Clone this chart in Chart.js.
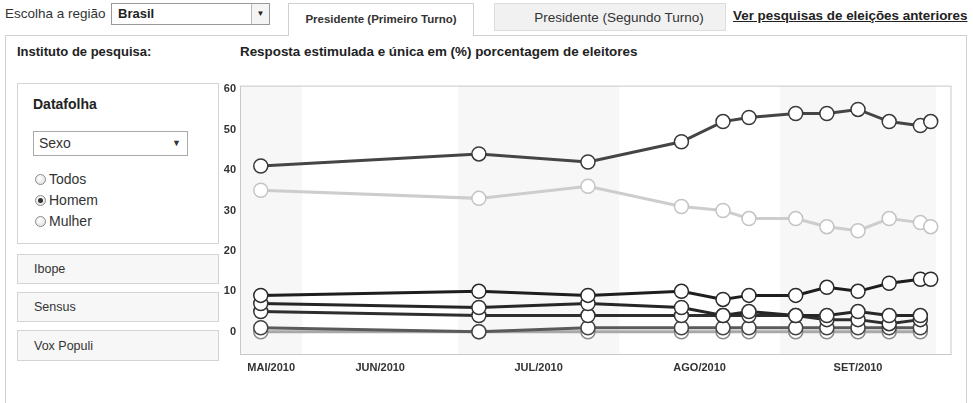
<!DOCTYPE html>
<html>
<head>
<meta charset="utf-8">
<script src="https://cdn.jsdelivr.net/npm/chart.js@4"></script>
<style>
  body { margin:0; background:#fff; font-family: Arial, "Liberation Sans", sans-serif; color:#333; }
  #page { position:relative; width:973px; height:403px; overflow:hidden; }
  .abs { position:absolute; white-space:nowrap; }
  .sel { position:absolute; border:1px solid #999; background:#fff; box-sizing:border-box; }
  .btn { position:absolute; right:0; top:0; bottom:0; width:17px; border-left:1px solid #bbb; background:#f4f4f4;
         font-size:8px; text-align:center; line-height:20px; color:#222; }
  .tab { position:absolute; box-sizing:border-box; text-align:center; }
  .box { position:absolute; left:17px; width:202px; box-sizing:border-box; border:1px solid #d4d4d4; }
  .inst { background:#f7f7f7; font-size:12.5px; padding-left:16px; }
  .radio { position:absolute; left:35px; width:11px; height:11px; border-radius:50%; border:1px solid #8a8a8a;
           box-sizing:border-box; background:radial-gradient(circle at 40% 35%, #fff, #ddd); }
  .radio.on::after { content:""; position:absolute; left:2px; top:2px; width:5px; height:5px; border-radius:50%; background:#333; }
  .rlabel { position:absolute; left:49px; font-size:14px; color:#333; }
  #chartBox { position:absolute; left:200px; top:75px; width:760px; height:310px; }
</style>
</head>
<body>
<div id="page">
  <div class="abs" style="left:5px;top:6px;font-size:13.5px;">Escolha a região</div>
  <div class="sel" style="left:111px;top:3px;width:159px;height:22px;">
    <span class="abs" style="left:6px;top:2px;font-size:13px;font-weight:bold;color:#222;">Brasil</span>
    <div class="btn">&#9660;</div>
  </div>

  <div style="position:absolute;left:5px;top:35px;width:962px;height:400px;border:1px solid #d0d0d0;box-sizing:border-box;"></div>
  <div class="tab" style="left:288px;top:3px;width:186px;height:33px;border:1px solid #d0d0d0;border-bottom:none;background:#fff;font-weight:bold;font-size:11.5px;line-height:30px;">Presidente (Primeiro Turno)</div>
  <div class="tab" style="left:494px;top:3px;width:232px;height:28px;border:1px solid #dcdcdc;background:#f1f1f1;font-size:13.5px;line-height:27px;padding-left:18px;">Presidente (Segundo Turno)</div>
  <div class="abs" style="left:733px;top:8px;font-size:13.4px;font-weight:bold;text-decoration:underline;color:#222;">Ver pesquisas de eleições anteriores</div>

  <div class="abs" style="left:17px;top:44px;font-size:13px;font-weight:bold;color:#222;">Instituto de pesquisa:</div>
  <div class="abs" style="left:240px;top:44px;font-size:13.4px;font-weight:bold;color:#222;">Resposta estimulada e única em (%) porcentagem de eleitores</div>

  <div class="box" style="top:83px;height:161px;"></div>
  <div class="abs" style="left:33px;top:96px;font-size:14px;font-weight:bold;color:#222;">Datafolha</div>
  <div class="sel" style="left:33px;top:131px;width:155px;height:25px;border-color:#aaa;">
    <span class="abs" style="left:5px;top:3px;font-size:14px;">Sexo</span>
    <span class="abs" style="right:6px;top:6px;font-size:9px;">&#9660;</span>
  </div>
  <div class="radio" style="top:174px;"></div><div class="rlabel" style="top:171px;">Todos</div>
  <div class="radio on" style="top:195px;"></div><div class="rlabel" style="top:192px;">Homem</div>
  <div class="radio" style="top:216px;"></div><div class="rlabel" style="top:213px;">Mulher</div>

  <div class="box inst" style="top:254px;height:30px;line-height:29px;">Ibope</div>
  <div class="box inst" style="top:292px;height:30px;line-height:29px;">Sensus</div>
  <div class="box inst" style="top:330px;height:31px;line-height:30px;">Vox Populi</div>

  <div id="chartBox"><canvas id="pollChart"></canvas></div>
</div>

<script>
// poll dates (Datafolha, male voters) and values in %
const pollDates = ["2010-05-24","2010-07-05","2010-07-26","2010-08-13","2010-08-21","2010-08-26",
                   "2010-09-04","2010-09-10","2010-09-16","2010-09-22","2010-09-28","2010-09-30"];
const dilma      = [41, 44, 42, 47, 52, 53, 54, 54, 55, 52, 51, 52];
const serra      = [35, 33, 36, 31, 30, 28, 28, 26, 25, 28, 27, 26];
const marina     = [9, 10, 9, 10, 8, 9, 9, 11, 10, 12, 13, 13];
const brancoNulo = [7, 6, 7, 6, 4, 5, 4, 4, 5, 4, 4, null];
const naoSabe    = [5, 4, 4, 4, 4, 4, 4, 3, 3, 2, 3, null];
const plinio     = [1, 0, 1, 1, 1, 1, 1, 1, 1, 1, 1, null];
const outros     = [0, 0, 0, 0, 0, 0, 0, 0, 0, 0, 0, null];

const monthLabels = ["MAI/2010","JUN/2010","JUL/2010","AGO/2010","SET/2010"];
const monthStarts = ["2010-05-01","2010-06-01","2010-07-01","2010-08-01","2010-09-01","2010-10-01"];
const yTicks = [0, 10, 20, 30, 40, 50, 60];
const axisStart = "2010-05-20";
const axisEnd = "2010-10-04";

// days since 1 May 2010
const dayOf = s => (Date.parse(s) - Date.parse("2010-05-01")) / 86400000;

const xMin = dayOf(axisStart), xMax = dayOf(axisEnd);
const starts = monthStarts.map(dayOf);
// month label sits in the middle of the visible part of each month
const labelDays = monthLabels.map((m, i) => (Math.max(starts[i], xMin) + Math.min(starts[i + 1], xMax)) / 2);

function series(label, values, line, ring, order) {
  return {
    label,
    data: values.map((v, i) => ({ x: dayOf(pollDates[i]), y: v })),
    borderColor: line,
    borderWidth: 3,
    pointRadius: 7,
    pointBorderWidth: 1.5,
    pointBorderColor: ring,
    pointBackgroundColor: "#fff",
    order
  };
}

const monthBands = {
  id: "monthBands",
  beforeDatasetsDraw(chart) {
    const { ctx, chartArea: a, scales: { x } } = chart;
    ctx.save();
    for (let i = 0; i < monthLabels.length; i += 2) {
      const l = Math.max(x.getPixelForValue(starts[i]), a.left);
      const r = Math.min(x.getPixelForValue(starts[i + 1]), a.right);
      ctx.fillStyle = "#f7f7f7";
      ctx.fillRect(l, a.top, r - l, a.bottom - a.top);
    }
    ctx.strokeStyle = "#c9c9c9";
    ctx.lineWidth = 1;
    ctx.strokeRect(a.left + 0.5, a.top + 0.5, a.right - a.left - 1, a.bottom - a.top - 1);
    ctx.restore();
  }
};

new Chart(document.getElementById("pollChart"), {
  type: "line",
  data: {
    datasets: [
      series("Outros", outros, "#a8a8a8", "#8a8a8a", 7),
      series("Plínio", plinio, "#5a5a5a", "#444", 6),
      series("Não sabe", naoSabe, "#2e2e2e", "#333", 5),
      series("Branco/Nulo", brancoNulo, "#262626", "#333", 4),
      series("Marina", marina, "#1e1e1e", "#2a2a2a", 3),
      series("Serra", serra, "#cdcdcd", "#c4c4c4", 2),
      series("Dilma", dilma, "#454545", "#3a3a3a", 1)
    ]
  },
  options: {
    responsive: true,
    maintainAspectRatio: false,
    animation: false,
    layout: { padding: { top: 8, right: 7, bottom: 0, left: 0 } },
    plugins: { legend: { display: false }, tooltip: { enabled: false } },
    scales: {
      x: {
        type: "linear",
        min: xMin,
        max: xMax,
        grid: { display: false, drawTicks: false },
        border: { display: false },
        afterBuildTicks: s => { s.ticks = labelDays.map(v => ({ value: v })); },
        afterFit: s => { s.height = 30; },
        ticks: {
          autoSkip: false,
          maxRotation: 0,
          padding: 6,
          color: "#333",
          font: { family: "Arial", size: 11, weight: "bold" },
          callback: (v, i) => monthLabels[i]
        }
      },
      y: {
        min: -5.75,
        max: 60.9,
        grid: { display: false, drawTicks: false },
        border: { display: false },
        afterBuildTicks: s => { s.ticks = yTicks.map(v => ({ value: v })); },
        afterFit: s => { s.width = 40; },
        ticks: {
          padding: 4,
          color: "#333",
          font: { family: "Arial", size: 11, weight: "bold" }
        }
      }
    }
  },
  plugins: [monthBands]
});
</script>
</body>
</html>
